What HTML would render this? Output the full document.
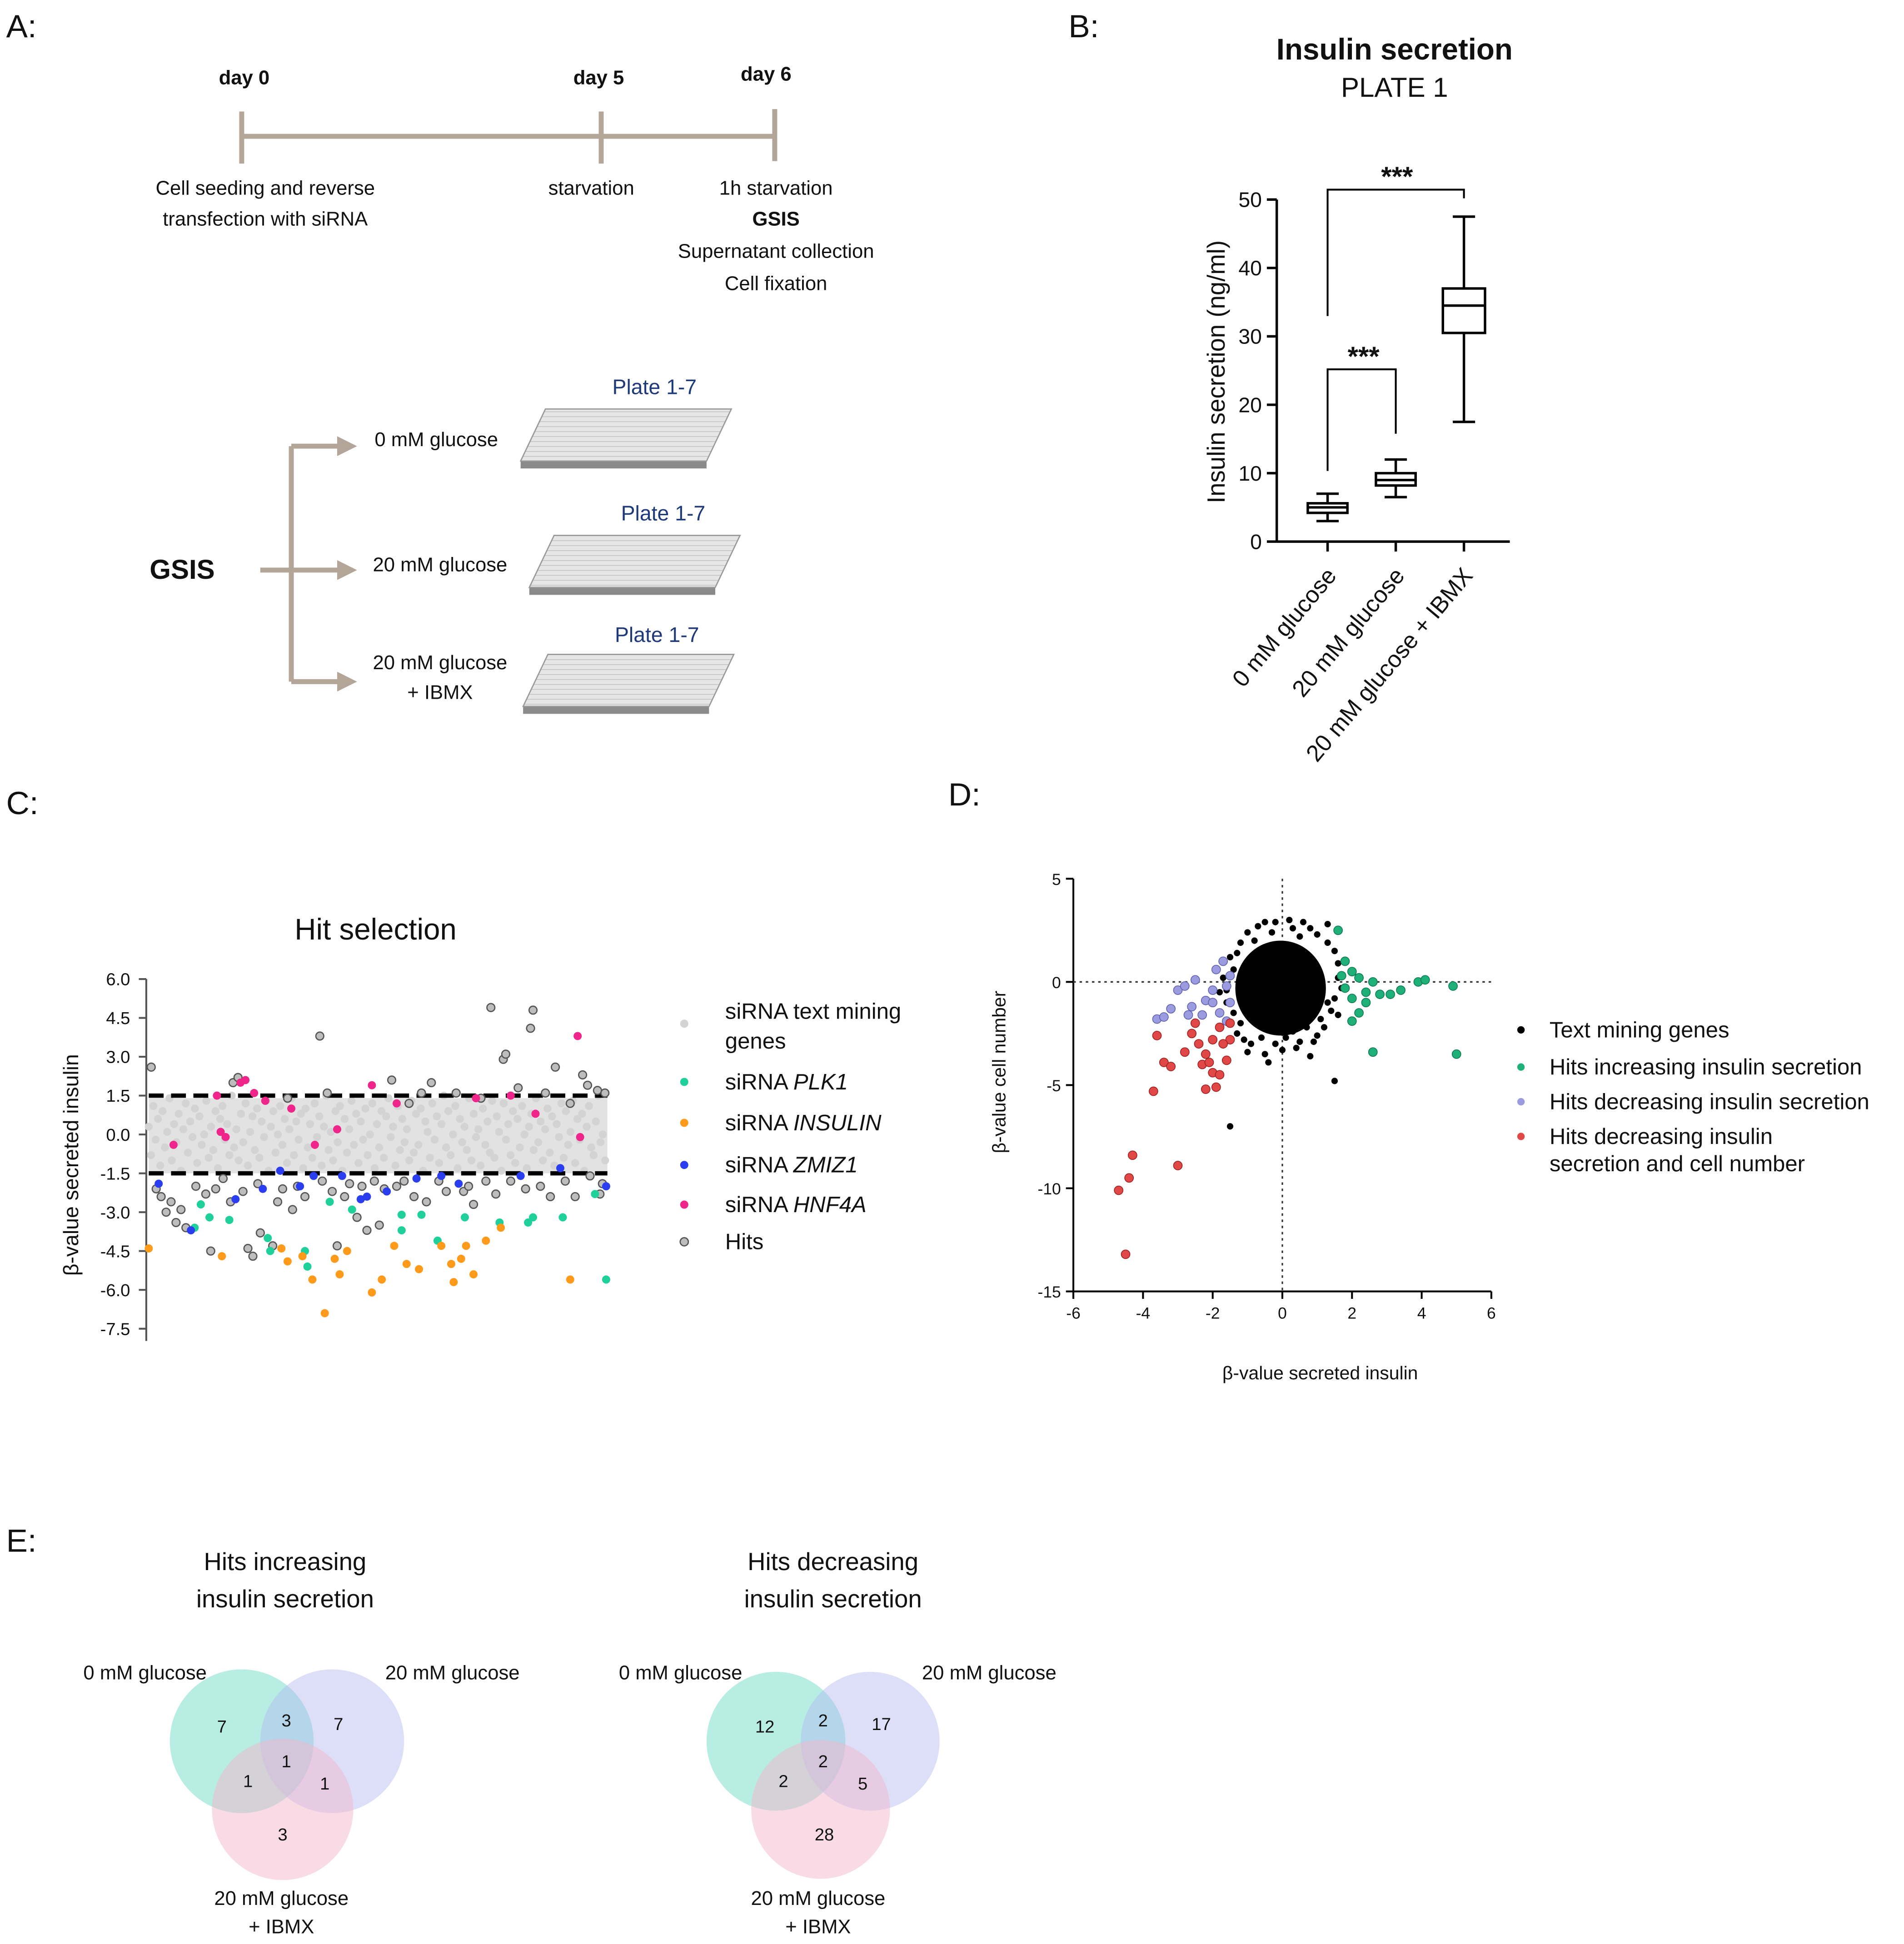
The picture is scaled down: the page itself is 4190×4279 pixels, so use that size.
<!DOCTYPE html>
<html><head><meta charset="utf-8">
<style>
html,body{margin:0;padding:0;background:#fff;}
svg{display:block;}
text{font-family:"Liberation Sans",Arial,sans-serif;fill:#111;}
</style></head>
<body>
<svg id="fig" xmlns="http://www.w3.org/2000/svg" width="4190" height="4279" viewBox="0 0 1536 1568.6">
<rect width="1536" height="1568.6" fill="#fff"/>
<g font-size="26">
<text x="5" y="30">A:</text><text x="862" y="30">B:</text><text x="5" y="657">C:</text><text x="765" y="650">D:</text><text x="5" y="1252">E:</text>
</g>
<g font-size="16" text-anchor="middle">
<line x1="195" y1="110" x2="625" y2="110" stroke="#b3a597" stroke-width="4"/>
<line x1="195" y1="90" x2="195" y2="132" stroke="#b3a597" stroke-width="4"/>
<line x1="485" y1="90" x2="485" y2="132" stroke="#b3a597" stroke-width="4"/>
<line x1="625" y1="88" x2="625" y2="130" stroke="#b3a597" stroke-width="4"/>
<text x="197" y="68" font-weight="bold">day 0</text>
<text x="483" y="68" font-weight="bold">day 5</text>
<text x="618" y="65" font-weight="bold">day 6</text>
<text x="214" y="157">Cell seeding and reverse</text>
<text x="214" y="182">transfection with siRNA</text>
<text x="477" y="157">starvation</text>
<text x="626" y="157">1h starvation</text>
<text x="626" y="182" font-weight="bold">GSIS</text>
<text x="626" y="208">Supernatant  collection</text>
<text x="626" y="234">Cell fixation</text>
</g>
<g font-size="16">
<g stroke="#b3a597" stroke-width="4" fill="none">
<line x1="235" y1="360" x2="235" y2="550"/>
<line x1="210" y1="460" x2="235" y2="460"/>
<line x1="235" y1="360" x2="274" y2="360"/><line x1="235" y1="460" x2="274" y2="460"/><line x1="235" y1="550" x2="274" y2="550"/>
</g>
<g fill="#b3a597"><polygon points="272,352 288,360 272,368"/><polygon points="272,452 288,460 272,468"/><polygon points="272,542 288,550 272,558"/></g>
<text x="147" y="467" font-size="22" font-weight="bold" text-anchor="middle">GSIS</text>
<text x="352" y="360" text-anchor="middle">0 mM glucose</text>
<text x="355" y="461" text-anchor="middle">20 mM glucose</text>
<text x="355" y="540" text-anchor="middle">20 mM glucose</text>
<text x="355" y="564" text-anchor="middle">+ IBMX</text>
<g font-size="17" text-anchor="middle">
<text x="528" y="318" style="fill:#1f3a7a">Plate 1-7</text>
<text x="535" y="420" style="fill:#1f3a7a">Plate 1-7</text>
<text x="530" y="518" style="fill:#1f3a7a">Plate 1-7</text>
</g>
<defs><pattern id="hatch" width="4" height="4" patternUnits="userSpaceOnUse"><rect width="4" height="4" fill="#e6e6e6"/><line x1="0" y1="0" x2="4" y2="0" stroke="#bdbdbd" stroke-width="1"/></pattern></defs>
<g>
<polygon points="420,372 570,372 570,378 420,378" fill="#8a8a8a"/>
<polygon points="440,330 590,330 570,372 420,372" fill="url(#hatch)" stroke="#999" stroke-width="1"/>
<polygon points="427,474 577,474 577,480 427,480" fill="#8a8a8a"/>
<polygon points="447,432 597,432 577,474 427,474" fill="url(#hatch)" stroke="#999" stroke-width="1"/>
<polygon points="422,570 572,570 572,576 422,576" fill="#8a8a8a"/>
<polygon points="442,528 592,528 572,570 422,570" fill="url(#hatch)" stroke="#999" stroke-width="1"/>
</g>
</g>
<g id="panelB"></g>
<g id="panelC"></g>
<g id="panelD"></g>
<g font-size="16" text-anchor="middle">
<text x="230" y="1267" font-size="20">Hits increasing</text>
<text x="230" y="1297" font-size="20">insulin secretion</text>
<text x="672" y="1267" font-size="20">Hits decreasing</text>
<text x="672" y="1297" font-size="20">insulin secretion</text>
<g>
<circle cx="195" cy="1405" r="58" fill="#5fd8c0" fill-opacity="0.45"/>
<circle cx="268" cy="1405" r="58" fill="#b3b8f2" fill-opacity="0.45"/>
<circle cx="228" cy="1460" r="57" fill="#f2b8cc" fill-opacity="0.5"/>
<g font-size="14"><text x="179" y="1398">7</text><text x="231" y="1393">3</text><text x="273" y="1396">7</text><text x="231" y="1426">1</text><text x="200" y="1442">1</text><text x="262" y="1444">1</text><text x="228" y="1485">3</text></g>
<text x="117" y="1355">0 mM glucose</text><text x="365" y="1355">20 mM glucose</text><text x="227" y="1537">20 mM glucose</text><text x="227" y="1560">+ IBMX</text>
</g>
<g>
<circle cx="626" cy="1405" r="56" fill="#5fd8c0" fill-opacity="0.45"/>
<circle cx="702" cy="1405" r="56" fill="#b3b8f2" fill-opacity="0.45"/>
<circle cx="662" cy="1460" r="56" fill="#f2b8cc" fill-opacity="0.5"/>
<g font-size="14"><text x="617" y="1398">12</text><text x="664" y="1393">2</text><text x="711" y="1396">17</text><text x="664" y="1426">2</text><text x="632" y="1442">2</text><text x="696" y="1444">5</text><text x="665" y="1485">28</text></g>
<text x="549" y="1355">0 mM glucose</text><text x="798" y="1355">20 mM glucose</text><text x="660" y="1537">20 mM glucose</text><text x="660" y="1560">+ IBMX</text>
</g>
</g>
</svg>
<script>
const bCategories = ["0 mM glucose","20 mM glucose","20 mM glucose + IBMX"];
const bMin = [3, 6.5, 17.5];
const bQ1 = [4.2, 8.2, 30.5];
const bMedian = [5, 9, 34.5];
const bQ3 = [5.6, 10, 37];
const bMax = [7, 12, 47.5];
const bTicks = [0,10,20,30,40,50];
const cTicks = [6.0,4.5,3.0,1.5,0.0,-1.5,-3.0,-4.5,-6.0,-7.5];
const cThresholds = [1.5,-1.5];
const cGrayY = [0.3,-0.8,1.1,-0.2,0.6,-1.2,0.9,-0.5,0.1,1.4,-1.0,0.4,-0.3,0.8,-1.4,0.2,1.2,-0.7,0.5,-0.1,1.0,-1.1,0.7,-0.4,0.0,1.3,-0.9,0.3,-0.6,0.9,-1.3,0.6,1.1,-0.2,0.4,-0.8,1.5,-0.5,0.2,-1.0,0.8,-0.3,1.2,-1.2,0.1,0.7,-0.6,1.0,-0.9,0.5,-0.1,1.3,-1.4,0.3,0.9,-0.7,0.0,1.1,-0.4,0.6,-1.1,0.2,1.4,-0.8,0.5,-0.2,0.8,-1.3,1.0,-0.5,0.4,-0.9,1.2,-0.1,0.7,-1.2,0.3,1.5,-0.6,0.1,-1.0,0.9,-0.3,1.1,-1.4,0.6,-0.7,0.2,1.3,-0.4,0.8,-1.1,0.5,-0.2,1.0,-0.8,0.0,1.2,-1.3,0.4,-0.5,0.9,-0.9,0.7,1.4,-0.1,0.3,-1.2,1.1,-0.6,0.6,-0.3,0.2,-1.0,1.3,-0.7,0.8,-0.4,1.0,-1.4,0.5,0.1,-0.9,1.2,-0.2,0.7,-1.1,0.4,1.5,-0.5,0.9,-0.8,0.0,1.1,-1.3,0.6,-0.3,0.3,-0.6,1.4,-1.0,0.8,-0.1,0.2,-1.2,1.0,-0.4,0.5,-0.7,1.3,-0.9,0.7,0.1,-1.4,1.2,-0.2,0.4,-0.8,0.9,-1.1,0.6,-0.5,1.1,0.0,-1.3,0.3,0.8,-0.6,1.4,-0.3,0.5,-1.0,0.2,1.0,-0.7,0.7,-1.2,0.4,-0.1,1.2,-0.9,0.9,-0.4,0.1,1.3,-1.1,0.6,-0.2,0.8,-1.4,0.3,1.1,-0.5,-0.8,0.5,1.5,-0.3,0.0,-1.0];
const cHits = [[2,2.6],[6,-2.1],[10,-2.4],[14,-3.0],[18,-2.6],[22,-3.4],[26,-2.9],[30,-3.6],[38,-2.0],[46,-2.3],[50,-4.5],[54,-2.1],[60,-1.7],[66,-2.6],[68,2.0],[72,2.2],[76,-2.2],[80,-4.4],[84,-4.7],[88,-1.9],[90,-3.8],[100,-4.3],[104,-2.6],[108,-2.1],[112,1.4],[116,-2.9],[120,-2.0],[126,-2.4],[138,3.8],[140,-1.8],[144,1.6],[148,-2.2],[152,-4.3],[158,-2.4],[162,-1.9],[168,-3.2],[172,-2.0],[176,-3.7],[182,-1.8],[186,-3.5],[190,-2.1],[196,2.1],[200,-2.0],[206,-1.8],[210,1.2],[214,-2.4],[220,1.6],[224,-2.6],[228,2.0],[234,-1.8],[240,-2.2],[248,1.6],[254,-2.2],[258,-2.0],[262,-2.7],[268,1.4],[272,-1.8],[276,4.9],[280,-2.3],[286,2.9],[288,3.1],[292,-1.8],[298,1.8],[304,-2.1],[308,4.1],[310,4.8],[316,-2.0],[320,1.6],[324,-2.4],[328,2.6],[336,-1.8],[340,1.2],[344,-2.4],[350,2.3],[354,1.9],[356,-1.6],[362,1.7],[364,-2.3],[368,1.6],[366,-1.9]];
const cPLK1 = [[42,-2.7],[49,-3.2],[65,-3.3],[96,-4.0],[98,-4.5],[126,-4.5],[128,-5.1],[164,-2.9],[204,-3.1],[204,-3.7],[220,-3.1],[233,-4.1],[255,-3.2],[283,-3.4],[306,-3.4],[310,-3.2],[334,-3.2],[360,-2.3],[369,-5.6],[37,-3.6],[146,-2.6]];
const cINS = [[0,-4.4],[59,-4.7],[107,-4.4],[124,-4.7],[132,-5.6],[150,-4.8],[154,-5.4],[160,-4.5],[180,-6.1],[188,-5.6],[208,-5.0],[218,-5.2],[236,-4.3],[246,-5.7],[252,-4.8],[256,-4.3],[262,-5.4],[272,-4.1],[284,-3.6],[112,-4.9],[142,-6.9],[340,-5.6],[198,-4.3],[244,-5.0]];
const cZMIZ1 = [[34,-3.7],[70,-2.5],[106,-1.4],[122,-2.0],[133,-1.6],[156,-1.6],[171,-2.5],[176,-2.4],[192,-2.2],[216,-1.7],[236,-1.6],[250,-1.9],[300,-1.6],[332,-1.3],[369,-2.0],[92,-2.1],[8,-1.9]];
const cHNF4A = [[20,-0.4],[55,1.5],[62,-0.1],[74,2.0],[78,2.1],[85,1.6],[94,1.3],[115,1.0],[134,-0.4],[152,0.2],[180,1.9],[200,1.2],[264,1.4],[292,1.5],[312,0.8],[346,3.8],[348,-0.1],[58,0.1]];
const dXTicks = [-6,-4,-2,0,2,4,6];
const dYTicks = [5,0,-5,-10,-15];
const dBlack = [[1.5,-4.8],[-1.5,-7.0],[-0.5,-3.5],[1.3,2.8],[-0.7,2.7],[-1.2,1.9],[1.0,2.3],[0.3,2.6],[-0.2,2.9],[1.5,1.5],[-1.5,1.2],[-1.4,-1.5],[1.4,-1.4],[0.5,-2.9],[-0.9,-3.0],[1.2,-2.2],[-1.3,-2.5],[0.0,-3.3],[0.8,-3.6],[-0.4,-3.9],[1.6,0.2],[-1.6,-0.4],[0.2,3.0],[0.9,-2.9],[-1.0,2.4],[-1.4,0.6],[-1.6,-1.0],[-1.5,-2.0],[-1.1,-2.8],[-0.6,-2.7],[-0.2,-3.0],[0.3,-2.4],[0.7,-2.2],[1.1,-1.8],[1.5,-0.8],[1.6,0.9],[1.3,1.9],[0.8,2.6],[0.5,2.2],[-0.3,2.4],[-0.8,2.0],[-1.3,1.4],[-1.7,0.2],[-1.2,-2.0],[-0.3,-2.2],[0.4,-3.2],[1.0,-2.6],[1.7,-0.3],[-1.8,-0.5],[-1.0,-3.4],[0.1,-2.7],[1.3,-1.0],[-0.5,2.9],[0.6,2.9],[1.6,-1.6]];
const dInc = [[1.6,2.5],[1.8,1.0],[2.0,0.5],[2.2,0.2],[1.8,-0.3],[2.4,-0.5],[2.6,0],[2.0,-0.8],[2.2,-1.5],[2.8,-0.6],[3.1,-0.6],[2.0,-1.9],[2.6,-3.4],[3.9,0],[4.1,0.1],[4.9,-0.2],[5.0,-3.5],[1.7,0.3],[2.4,-1.0],[3.4,-0.4]];
const dDec = [[-3.6,-1.8],[-3.4,-1.7],[-3.0,-0.4],[-2.8,-0.2],[-2.6,-1.2],[-2.5,0.1],[-2.2,-0.9],[-2.0,-0.4],[-1.9,0.6],[-1.7,1.0],[-1.6,-0.2],[-1.8,-1.5],[-1.5,-1.0],[-1.5,0.3],[-2.3,-1.6],[-3.2,-1.3],[-1.6,-1.9],[-2.7,-1.6],[-2.0,-1.0]];
const dDecCell = [[-4.7,-10.1],[-4.5,-13.2],[-4.4,-9.5],[-4.3,-8.4],[-3.0,-8.9],[-3.7,-5.3],[-3.6,-2.6],[-3.4,-3.9],[-3.2,-4.1],[-2.6,-2.5],[-2.4,-3.0],[-2.2,-3.5],[-2.0,-4.4],[-1.9,-5.1],[-2.2,-5.2],[-1.8,-2.2],[-1.5,-2.8],[-1.6,-3.8],[-2.5,-2.0],[-2.3,-4.0],[-1.8,-4.5],[-2.0,-2.8],[-1.5,-2.0],[-2.8,-3.4],[-1.7,-3.0],[-2.1,-3.9]];

const NS="http://www.w3.org/2000/svg";
function mk(parent,tag,attrs,txt){const e=document.createElementNS(NS,tag);for(const k in attrs)e.setAttribute(k,attrs[k]);if(txt!==undefined)e.textContent=txt;parent.appendChild(e);return e;}

(function(){
const g=document.getElementById('panelB');
const yB=v=>437-v*5.52;
const xB=i=>1071+i*55;
mk(g,'text',{x:1125,y:48,'font-size':24,'font-weight':'bold','text-anchor':'middle'},'Insulin secretion');
mk(g,'text',{x:1125,y:78,'font-size':22,'text-anchor':'middle'},'PLATE 1');
const yl=mk(g,'text',{x:0,y:0,'font-size':20,'text-anchor':'middle',transform:'translate(988,300) rotate(-90)'},'Insulin secretion (ng/ml)');


mk(g,'line',{x1:1030,y1:yB(50),x2:1030,y2:yB(0),stroke:'#000','stroke-width':2});
mk(g,'line',{x1:1030,y1:yB(0),x2:1218,y2:yB(0),stroke:'#000','stroke-width':2});
bTicks.forEach(t=>{mk(g,'line',{x1:1022,y1:yB(t),x2:1030,y2:yB(t),stroke:'#000','stroke-width':2});
mk(g,'text',{x:1018,y:yB(t)+6,'font-size':17,'text-anchor':'end'},String(t));});
bCategories.forEach((c,i)=>{
const x=xB(i);
mk(g,'line',{x1:x,y1:yB(0),x2:x,y2:yB(0)+8,stroke:'#000','stroke-width':2});
const lb=mk(g,'text',{x:0,y:0,'font-size':19,'text-anchor':'end',transform:`translate(${x+8},${yB(0)+28}) rotate(-50)`},c);


const bx=mk(g,'g',{});


const w=i==2?17:16;
mk(bx,'line',{x1:x,y1:yB(bMax[i]),x2:x,y2:yB(bQ3[i]),stroke:'#000','stroke-width':2});
mk(bx,'line',{x1:x,y1:yB(bQ1[i]),x2:x,y2:yB(bMin[i]),stroke:'#000','stroke-width':2});
mk(bx,'line',{x1:x-9,y1:yB(bMax[i]),x2:x+9,y2:yB(bMax[i]),stroke:'#000','stroke-width':2});
mk(bx,'line',{x1:x-9,y1:yB(bMin[i]),x2:x+9,y2:yB(bMin[i]),stroke:'#000','stroke-width':2});
mk(bx,'rect',{x:x-w,y:yB(bQ3[i]),width:2*w,height:yB(bQ1[i])-yB(bQ3[i]),fill:'#fff',stroke:'#000','stroke-width':2});
mk(bx,'line',{x1:x-w,y1:yB(bMedian[i]),x2:x+w,y2:yB(bMedian[i]),stroke:'#000','stroke-width':2});
});
mk(g,'polyline',{points:`${xB(0)},255 ${xB(0)},153 ${xB(2)},153 ${xB(2)},160`,fill:'none',stroke:'#000','stroke-width':1.5});
mk(g,'text',{x:1127,y:150,'font-size':22,'font-weight':'bold','text-anchor':'middle'},'***');
mk(g,'polyline',{points:`${xB(0)},380 ${xB(0)},298 ${xB(1)},298 ${xB(1)},350`,fill:'none',stroke:'#000','stroke-width':1.5});
mk(g,'text',{x:1100,y:295,'font-size':22,'font-weight':'bold','text-anchor':'middle'},'***');
})();

(function(){
const g=document.getElementById('panelC');
const yC=v=>915.4-v*20.9;
const xC=i=>120+i;
mk(g,'text',{x:303,y:758,'font-size':24,'text-anchor':'middle'},'Hit selection');
const yl=mk(g,'text',{x:0,y:0,'font-size':17,'text-anchor':'middle',transform:'translate(63,940) rotate(-90)'},'β-value secreted insulin');


mk(g,'line',{x1:118,y1:yC(6),x2:118,y2:1082,stroke:'#555','stroke-width':1.5});
cTicks.forEach(t=>{mk(g,'line',{x1:112,y1:yC(t),x2:118,y2:yC(t),stroke:'#555','stroke-width':1.5});
mk(g,'text',{x:105,y:yC(t)+5,'font-size':14,'text-anchor':'end'},t.toFixed(1));});
const band=mk(g,'rect',{x:120,y:yC(1.4),width:370,height:yC(-1.5)-yC(1.4),fill:'#e2e2e2'});


const step=370/cGrayY.length;
cGrayY.forEach((v,i)=>{const c=mk(g,'circle',{cx:xC(i*step),cy:yC(v),r:3.2,fill:'#d3d3d3'});

});
cThresholds.forEach(t=>{const l=mk(g,'line',{x1:120,y1:yC(t),x2:490,y2:yC(t),stroke:'#000','stroke-width':3.5,'stroke-dasharray':'12,6'});

});
cHits.forEach(p=>{const c=mk(g,'circle',{cx:xC(p[0]),cy:yC(p[1]),r:3.2,fill:'#bdbdbd',stroke:'#555','stroke-width':1});

});
const sets=[[cPLK1,'#1fd09a','plk1-point'],[cINS,'#ff9a1a','insulin-point'],[cZMIZ1,'#2a3ef0','zmiz1-point'],[cHNF4A,'#f0258c','hnf4a-point']];
sets.forEach(s=>s[0].forEach(p=>{const c=mk(g,'circle',{cx:xC(p[0]),cy:yC(p[1]),r:3.3,fill:s[1]});

}));
const lg=mk(g,'g',{'font-size':18});


mk(lg,'circle',{cx:552,cy:826,r:3.3,fill:'#d3d3d3'});
mk(lg,'text',{x:585,y:822},'siRNA text mining');mk(lg,'text',{x:585,y:846},'genes');
const rows=[[879,'#1fd09a','PLK1'],[912,'#ff9a1a','INSULIN'],[946,'#2a3ef0','ZMIZ1'],[978,'#f0258c','HNF4A']];
rows.forEach(r=>{mk(lg,'circle',{cx:552,cy:r[0]-6,r:3.3,fill:r[1]});
const t=mk(lg,'text',{x:585,y:r[0]},'siRNA ');mk(t,'tspan',{'font-style':'italic'},r[2]);});
mk(lg,'circle',{cx:552,cy:1002,r:3.3,fill:'#bdbdbd',stroke:'#555','stroke-width':1});
mk(lg,'text',{x:585,y:1008},'Hits');
})();

(function(){
const g=document.getElementById('panelD');
const xD=v=>1034.5+v*28.1;
const yD=v=>792.3-v*16.65;
mk(g,'line',{x1:xD(-6),y1:yD(-15),x2:xD(6),y2:yD(-15),stroke:'#000','stroke-width':1.5});
mk(g,'line',{x1:xD(-6),y1:yD(5),x2:xD(-6),y2:yD(-15),stroke:'#000','stroke-width':1.5});
mk(g,'line',{x1:xD(0),y1:yD(5),x2:xD(0),y2:yD(-15),stroke:'#333','stroke-width':1.2,'stroke-dasharray':'2,3'});
mk(g,'line',{x1:xD(-6),y1:yD(0),x2:xD(6),y2:yD(0),stroke:'#333','stroke-width':1.2,'stroke-dasharray':'2,3'});
dXTicks.forEach(t=>{mk(g,'line',{x1:xD(t),y1:yD(-15),x2:xD(t),y2:yD(-15)+6,stroke:'#000','stroke-width':1.5});
mk(g,'text',{x:xD(t),y:yD(-15)+22,'font-size':13,'text-anchor':'middle'},String(t));});
dYTicks.forEach(t=>{mk(g,'line',{x1:xD(-6)-6,y1:yD(t),x2:xD(-6),y2:yD(t),stroke:'#000','stroke-width':1.5});
mk(g,'text',{x:xD(-6)-10,y:yD(t)+5,'font-size':13,'text-anchor':'end'},String(t));});
mk(g,'text',{x:1065,y:1113,'font-size':15,'text-anchor':'middle'},'β-value secreted insulin');
const yl=mk(g,'text',{x:0,y:0,'font-size':15,'text-anchor':'middle',transform:'translate(811,865) rotate(-90)'},'β-value cell number');


const core=mk(g,'ellipse',{cx:xD(-0.05),cy:yD(-0.3),rx:1.3*28.1,ry:2.3*16.65,fill:'#000'});


dBlack.forEach(p=>{const c=mk(g,'circle',{cx:xD(p[0]),cy:yD(p[1]),r:2.6,fill:'#000'});

});
const sets=[[dInc,'#1fb07a','#0e7a52','increasing-hit-point'],[dDec,'#9b9be0','#6060b0','decreasing-hit-point'],[dDecCell,'#e04848','#a02020','decreasing-cell-hit-point']];
sets.forEach(s=>s[0].forEach(p=>{const c=mk(g,'circle',{cx:xD(p[0]),cy:yD(p[1]),r:3.5,fill:s[1],stroke:s[2],'stroke-width':0.6});

}));
const lg=mk(g,'g',{'font-size':18});


const rows=[[837,'#000','Text mining genes'],[867,'#1fb07a','Hits increasing insulin secretion'],[895,'#9b9be0','Hits decreasing insulin secretion'],[923,'#e04848','Hits decreasing insulin']];
rows.forEach(r=>{mk(lg,'circle',{cx:1227,cy:r[0]-6,r:3,fill:r[1]});mk(lg,'text',{x:1250,y:r[0]},r[2]);});
mk(lg,'text',{x:1250,y:945},'secretion and cell number');
})();
</script>
</body></html>
